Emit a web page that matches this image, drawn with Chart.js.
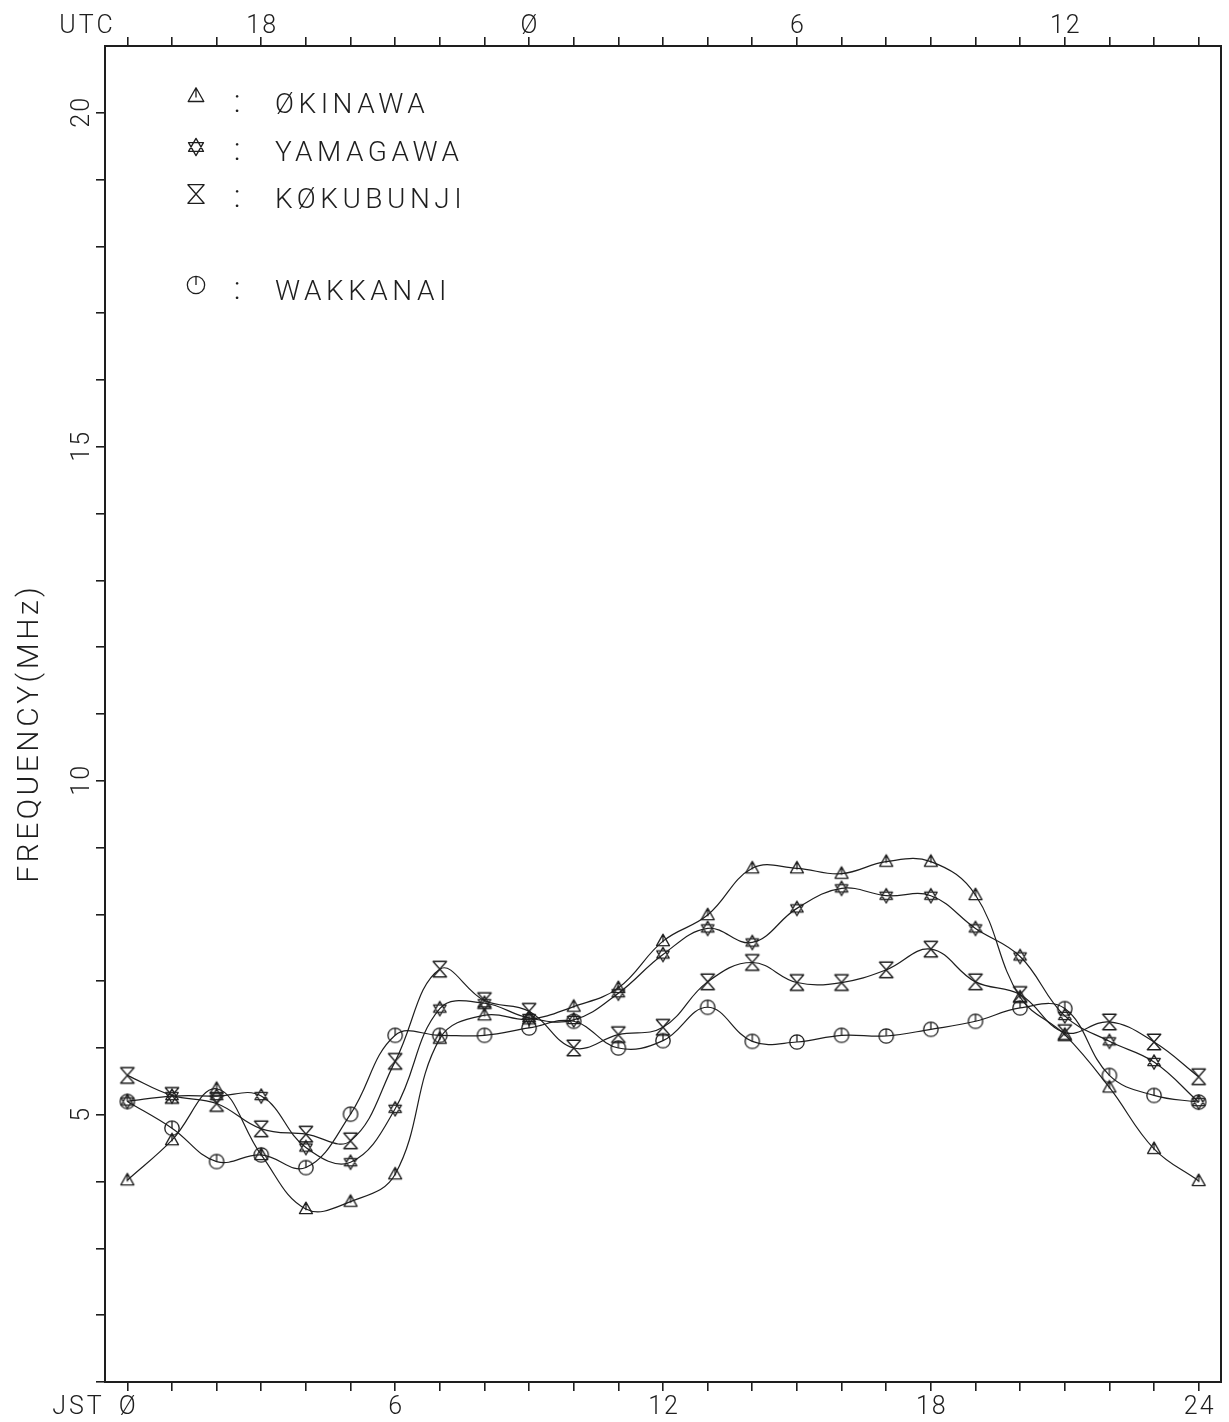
<!DOCTYPE html>
<html>
<head>
<meta charset="utf-8">
<script src="https://cdn.jsdelivr.net/npm/chart.js@4.4.1/dist/chart.umd.min.js"></script>
<style>
  html, body { margin: 0; padding: 0; background: #fff; }
  canvas { display: block; }
</style>
</head>
<body>
<canvas id="chart" width="1229" height="1422"></canvas>
<script>
// Hourly critical frequency (MHz) by station, JST 0..24
const hours = [0, 1, 2, 3, 4, 5, 6, 7, 8, 9, 10, 11, 12, 13, 14, 15, 16, 17, 18, 19, 20, 21, 22, 23, 24];
const okinawa   = [4.02, 4.62, 5.39, 4.40, 3.59, 3.70, 4.11, 6.14, 6.49, 6.43, 6.62, 6.90, 7.60, 7.99, 8.69, 8.69, 8.61, 8.79, 8.79, 8.29, 6.76, 6.20, 5.41, 4.49, 4.01];
const yamagawa  = [5.20, 5.28, 5.28, 5.28, 4.51, 4.29, 5.09, 6.59, 6.67, 6.45, 6.42, 6.82, 7.40, 7.79, 7.58, 8.09, 8.39, 8.28, 8.28, 7.79, 7.37, 6.48, 6.10, 5.79, 5.19];
const kokubunji = [5.59, 5.29, 5.17, 4.79, 4.71, 4.61, 5.80, 7.18, 6.71, 6.55, 6.00, 6.20, 6.31, 6.99, 7.28, 6.98, 6.98, 7.17, 7.48, 6.99, 6.80, 6.23, 6.39, 6.09, 5.57];
const wakkanai  = [5.20, 4.80, 4.30, 4.40, 4.21, 5.01, 6.19, 6.19, 6.19, 6.30, 6.40, 6.00, 6.11, 6.61, 6.10, 6.09, 6.19, 6.18, 6.28, 6.40, 6.60, 6.59, 5.59, 5.29, 5.19];

const stationNames = ['ØKINAWA', 'YAMAGAWA', 'KØKUBUNJI', 'WAKKANAI'];
const markerKinds  = ['tri', 'star', 'glass', 'clock'];

// Axis tick labels
const jstLabels  = [0, 6, 12, 18, 24];
const utcLabels  = [18, 0, 6, 12];          // UTC = JST - 9
const freqLabels = [5, 10, 15, 20];
const freqTicks  = [1, 2, 3, 4, 5, 6, 7, 8, 9, 10, 11, 12, 13, 14, 15, 16, 17, 18, 19, 20];
const yTitle = 'FREQUENCY(MHz)';

const ink = '#1e1e1e';
const fontFamily = 'Roboto, "Open Sans", "DejaVu Sans", sans-serif';

function zeroText(v) { return v === 0 ? 'Ø' : String(v); }

// Plotter-style marker outlines
function markerPath(ctx, kind, cx, cy, s) {
  ctx.beginPath();
  if (kind === 'tri') {
    const w = 13 * s, h = 11.5 * s;
    const top = cy - h * 0.6, base = cy + h * 0.4;
    ctx.moveTo(cx, top);
    ctx.lineTo(cx + w / 2, base);
    ctx.lineTo(cx - w / 2, base);
    ctx.closePath();
    ctx.moveTo(cx, top);
    ctx.lineTo(cx, cy + h * 0.1);
  } else if (kind === 'star') {
    const r = 7.2 * s;
    for (const start of [-Math.PI / 2, Math.PI / 2]) {
      for (let i = 0; i < 3; i++) {
        const a = start + i * 2 * Math.PI / 3;
        const px = cx + r * Math.cos(a), py = cy + r * Math.sin(a);
        if (i === 0) ctx.moveTo(px, py); else ctx.lineTo(px, py);
      }
      ctx.closePath();
    }
  } else if (kind === 'glass') {
    const w = 13.5 * s, h = 15.5 * s;
    ctx.moveTo(cx - w / 2, cy - h / 2);
    ctx.lineTo(cx + w / 2, cy - h / 2);
    ctx.lineTo(cx - w / 2, cy + h / 2);
    ctx.lineTo(cx + w / 2, cy + h / 2);
    ctx.closePath();
  } else {
    const r = 7.2 * s;
    ctx.arc(cx, cy, r, 0, Math.PI * 2);
    ctx.moveTo(cx, cy - r);
    ctx.lineTo(cx, cy);
  }
}

function makeMarker(kind) {
  const c = document.createElement('canvas');
  c.width = 30; c.height = 30;
  const g = c.getContext('2d');
  g.strokeStyle = ink;
  g.lineWidth = 1.3;
  g.lineJoin = 'round';
  markerPath(g, kind, 15, 15, 1);
  g.stroke();
  return c;
}

const seriesValues = [okinawa, yamagawa, kokubunji, wakkanai];
const datasets = seriesValues.map((vals, i) => ({
  label: stationNames[i],
  data: hours.map((h, j) => ({ x: h, y: vals[j] })),
  borderColor: ink,
  borderWidth: 1.2,
  tension: 0.4,
  fill: false,
  pointStyle: makeMarker(markerKinds[i]),
  pointRadius: 9,
  pointHoverRadius: 9,
  xAxisID: 'x',
  yAxisID: 'y'
}));

const tickGrid = { drawOnChartArea: false, drawTicks: true, tickLength: 9, color: ink, lineWidth: 1.6 };
const frame = { display: true, color: ink, width: 2 };

function drawText(ctx, text, x, y, size, spacing, align, angle) {
  ctx.save();
  ctx.translate(x, y);
  if (angle) ctx.rotate(angle);
  ctx.font = '300 ' + size + 'px ' + fontFamily;
  ctx.letterSpacing = spacing + 'px';
  ctx.textAlign = align || 'center';
  ctx.textBaseline = 'alphabetic';
  let dx = 0;
  if ((align || 'center') === 'center') dx = spacing / 2;
  // y given as the vertical centre of capitals
  ctx.fillText(text, dx, size * 0.355);
  ctx.restore();
}

const labelsPlugin = {
  id: 'plotterText',
  beforeDraw(chart) {
    const ctx = chart.ctx;
    ctx.save();
    ctx.fillStyle = '#fff';
    ctx.fillRect(0, 0, chart.width, chart.height);
    ctx.restore();
  },
  afterDraw(chart) {
    const ctx = chart.ctx;
    const xs = chart.scales.x, ys = chart.scales.y;
    ctx.save();
    ctx.fillStyle = ink;

    // bottom axis: JST
    jstLabels.forEach(v => drawText(ctx, zeroText(v), xs.getPixelForValue(v), 1405, 25, 2, 'center'));
    drawText(ctx, 'JST', 77, 1405, 25, 3, 'center');

    // top axis: UTC
    utcLabels.forEach(u => {
      const jst = (u + 9) % 24;
      drawText(ctx, zeroText(u), xs.getPixelForValue(jst), 24, 25, 2, 'center');
    });
    drawText(ctx, 'UTC', 86, 24, 25, 3, 'center');

    // left axis: frequency, rotated
    freqLabels.forEach(v => drawText(ctx, zeroText(v), 80, ys.getPixelForValue(v), 25, 2, 'center', -Math.PI / 2));
    drawText(ctx, yTitle, 27, 735, 30, 3.5, 'center', -Math.PI / 2);

    // station key
    const rows = [
      { sy: 96, ty: 103 },
      { sy: 147, ty: 151 },
      { sy: 194, ty: 198 },
      { sy: 285, ty: 290 }
    ];
    rows.forEach((r, i) => {
      ctx.save();
      ctx.strokeStyle = ink;
      ctx.lineWidth = 1.3;
      ctx.lineJoin = 'round';
      markerPath(ctx, markerKinds[i], 196, r.sy, 1.2);
      ctx.stroke();
      ctx.restore();
      drawText(ctx, ':', 237, r.ty - 2, 32, 0, 'center');
      drawText(ctx, stationNames[i], 275, r.ty, 28, 4.5, 'left');
    });
    ctx.restore();
  }
};

const chart = new Chart(document.getElementById('chart'), {
  type: 'line',
  data: { datasets },
  options: {
    responsive: false,
    animation: false,
    devicePixelRatio: 1,
    events: [],
    layout: { autoPadding: false, padding: { left: 0, right: 8, top: 0, bottom: 0 } },
    plugins: { legend: { display: false }, tooltip: { enabled: false } },
    scales: {
      x: {
        type: 'linear', position: 'bottom', min: -0.5, max: 24.5,
        afterBuildTicks: s => { s.ticks = hours.map(v => ({ value: v })); },
        afterFit: s => { s.height = 40; },
        grid: tickGrid, border: frame, ticks: { display: false }
      },
      xTop: {
        type: 'linear', position: 'top', min: -0.5, max: 24.5,
        afterBuildTicks: s => { s.ticks = hours.map(v => ({ value: v })); },
        afterFit: s => { s.height = 46; },
        grid: tickGrid, border: frame, ticks: { display: false }
      },
      y: {
        type: 'linear', position: 'left', min: 1, max: 21,
        afterBuildTicks: s => { s.ticks = freqTicks.map(v => ({ value: v })); },
        afterFit: s => { s.width = 105; },
        grid: tickGrid, border: frame, ticks: { display: false }
      },
      yRight: {
        type: 'linear', position: 'right', min: 1, max: 21,
        afterFit: s => { s.width = 0; },
        grid: { drawOnChartArea: false, drawTicks: false }, border: frame, ticks: { display: false }
      }
    }
  },
  plugins: [labelsPlugin]
});

if (document.fonts && document.fonts.load) {
  document.fonts.load('300 28px Roboto').then(() => chart.draw());
}
</script>
</body>
</html>
